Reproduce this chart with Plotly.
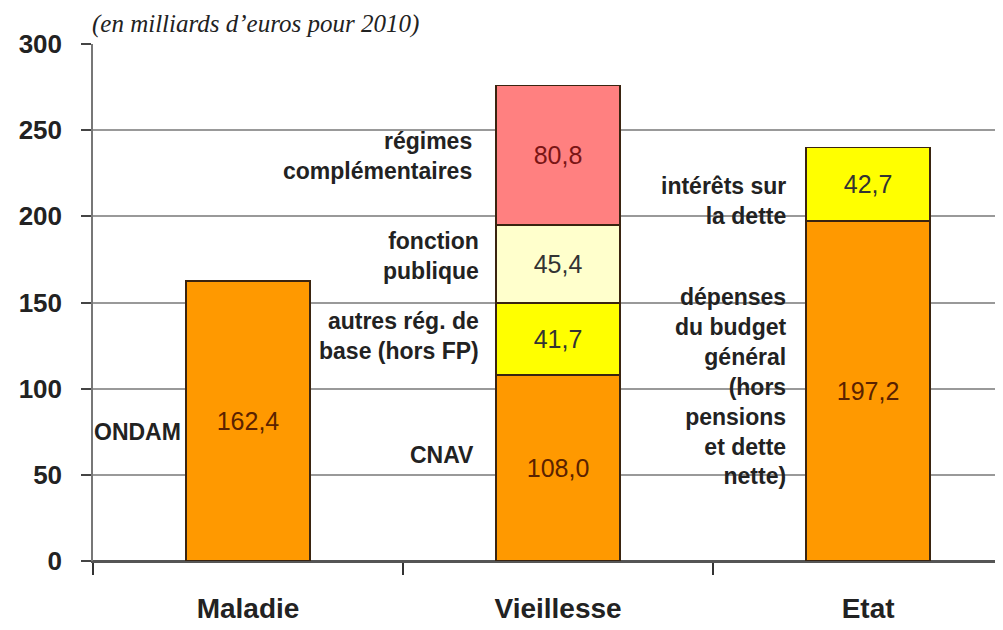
import plotly.graph_objects as go

categories = ["Maladie", "Vieillesse", "Etat"]

# stacked segments (milliards d'euros, 2010)
base_vals = [162.4, 108.0, 197.2]          # ONDAM / CNAV / dépenses budget général
autres_vals = [None, 41.7, None]           # autres rég. de base (hors FP)
fonction_vals = [None, 45.4, None]         # fonction publique
complementaires_vals = [None, 80.8, None]  # régimes complémentaires
interets_vals = [None, None, 42.7]         # intérêts sur la dette

y_ticks = [0, 50, 100, 150, 200, 250, 300]

ORANGE = "#FF9900"
YELLOW = "#FFFF00"
CREAM = "#FFFFCC"
PINK = "#FF8080"
OUTLINE = "#3a2410"
FONT = "Liberation Sans"


def fmt(vals):
    return ["" if v is None else f"{v:.1f}".replace(".", ",") for v in vals]


def bar(vals, color, txtcolor):
    return go.Bar(
        x=categories, y=vals, width=0.40,
        marker=dict(color=color, line=dict(color=OUTLINE, width=1.5)),
        text=fmt(vals), textposition="inside", insidetextanchor="middle",
        textangle=0, constraintext="none",
        textfont=dict(family=FONT, size=25, color=txtcolor),
        hoverinfo="skip", showlegend=False,
    )


fig = go.Figure()
fig.add_trace(bar(base_vals, ORANGE, "#5a2200"))
fig.add_trace(bar(autres_vals, YELLOW, "#333333"))
fig.add_trace(bar(fonction_vals, CREAM, "#333333"))
fig.add_trace(bar(complementaires_vals, PINK, "#7a1515"))
fig.add_trace(bar(interets_vals, YELLOW, "#333333"))

lab_font = dict(family=FONT, size=23, color="#222222", weight="bold")
labels = [
    ("ONDAM", -0.21, 75),
    ("CNAV", 0.735, 61.5),
    ("autres rég. de<br>base (hors FP)", 0.75, 130.6),
    ("fonction<br>publique", 0.75, 177),
    ("régimes<br>complémentaires", 0.73, 235),
    ("intérêts sur<br>la dette", 1.742, 209),
    ("dépenses<br>du budget<br>général<br>(hors<br>pensions<br>et dette<br>nette)", 1.742, 101),
]
for txt, xx, yy in labels:
    fig.add_annotation(x=xx, y=yy, xref="x", yref="y", text=txt, showarrow=False,
                       xanchor="right", yanchor="middle", align="right", font=lab_font)

fig.add_annotation(x=-0.003, y=1.038, xref="paper", yref="paper",
                   text="<i>(en milliards d’euros pour 2010)</i>", showarrow=False,
                   xanchor="left", yanchor="middle",
                   font=dict(family="Liberation Serif", size=25, color="#222222"))

fig.update_layout(
    width=1003, height=622,
    margin=dict(l=85, r=0, t=36, b=69),
    barmode="stack", bargap=0.6,
    plot_bgcolor="white", paper_bgcolor="white",
    xaxis=dict(range=[-0.5, 2.461], tickson="boundaries", ticks="outside", ticklen=12,
               tickcolor="#333333", tickwidth=1.5, showgrid=False,
               showline=True, linecolor="#555555", linewidth=1.5,
               tickfont=dict(family=FONT, size=28, color="#222222", weight="bold"),
               ticklabelstandoff=22),
    yaxis=dict(range=[0, 300], tickvals=y_ticks, ticks="outside", ticklen=10,
               tickcolor="#444444", tickwidth=1.5,
               showgrid=True, gridcolor="#999999", gridwidth=1.5,
               showline=True, linecolor="#777777", linewidth=1.5,
               zeroline=True, zerolinecolor="#555555", zerolinewidth=1.5,
               tickfont=dict(family=FONT, size=26, color="#222222", weight="bold"),
               ticklabelstandoff=14),
)

fig.write_html("out.html")
